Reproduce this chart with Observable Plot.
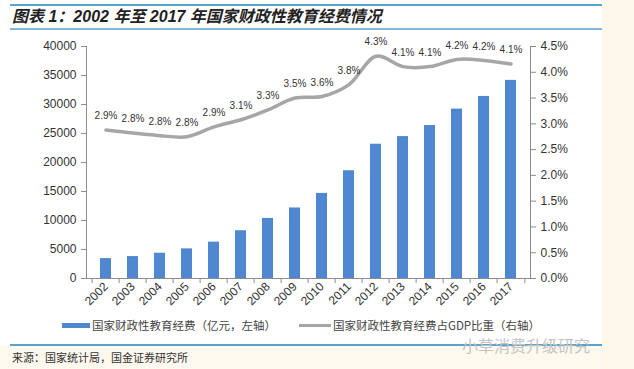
<!DOCTYPE html>
<html>
<head>
<meta charset="utf-8">
<script src="https://cdn.jsdelivr.net/npm/d3@7"></script>
<script src="https://cdn.jsdelivr.net/npm/@observablehq/plot@0.6"></script>
<style>
  html, body { margin: 0; padding: 0; }
  body { width: 634px; height: 369px; position: relative; background: #ffffff; overflow: hidden;
         font-family: "Liberation Sans", "Noto Sans CJK SC", sans-serif; }
  .abs { position: absolute; }
  #title { left: 12px; top: 7px; font-size: 16px; font-weight: bold; font-style: italic; color: #222; line-height: 20px; white-space: nowrap; }
  .hline { height: 2px; background: #5ba3c8; left: 10px; width: 592px; }
  #chart { left: 0; top: 30px; }
  .leg { font-family: "Noto Sans CJK SC", sans-serif; font-size: 11.5px; color: #444; white-space: nowrap; line-height: 14px; }
  #source { left: 12px; top: 350px; font-family: "Noto Sans CJK SC", sans-serif; font-size: 11px; color: #333; white-space: nowrap; line-height: 14px; }
  #wm { left: 462px; top: 335px; font-family: "Noto Sans CJK SC", sans-serif; font-size: 16px; color: #c4c4c4; white-space: nowrap; line-height: 20px; }
</style>
</head>
<body>
<div class="abs" style="left:602px;top:0;width:32px;height:369px;background:#fdf8ea;"></div>
<div class="abs" style="left:0;top:346px;width:602px;height:23px;background:#fdf9ee;"></div>
<div class="abs hline" style="top:4px;"></div>
<div class="abs" id="title">图表 1：2002 年至 2017 年国家财政性教育经费情况</div>
<div class="abs hline" style="top:28px;height:1.5px;background:#7fb8d6;"></div>
<div class="abs" id="chart"></div>
<div class="abs" style="left:62px;top:323px;width:28px;height:5px;background:#4f88d0;"></div>
<div class="abs leg" style="left:92px;top:318px;">国家财政性教育经费（亿元，左轴）</div>
<div class="abs" style="left:299px;top:324px;width:32px;height:3px;background:#a6a6a6;"></div>
<div class="abs leg" style="left:333px;top:318px;">国家财政性教育经费占GDP比重（右轴）</div>
<div class="abs hline" style="top:344px;"></div>
<div class="abs" id="source">来源：国家统计局，国金证券研究所</div>
<div class="abs" id="wm">小草消费升级研究</div>
<script>
const years = ["2002","2003","2004","2005","2006","2007","2008","2009","2010","2011","2012","2013","2014","2015","2016","2017"];
const spending = [3430, 3780, 4360, 5110, 6270, 8230, 10360, 12160, 14670, 18580, 23150, 24470, 26370, 29210, 31390, 34160];
const gdpShare = [2.88, 2.82, 2.77, 2.75, 2.94, 3.08, 3.27, 3.50, 3.53, 3.76, 4.31, 4.11, 4.11, 4.25, 4.23, 4.16];
const shareLabels = ["2.9%","2.8%","2.8%","2.8%","2.9%","3.1%","3.3%","3.5%","3.6%","3.8%","4.3%","4.1%","4.1%","4.2%","4.2%","4.1%"];
const leftTicks = [0,5000,10000,15000,20000,25000,30000,35000,40000];
const rightTicks = [0,0.5,1.0,1.5,2.0,2.5,3.0,3.5,4.0,4.5];

const leftMax = 40000, rightMax = 4.5;
const ratio = leftMax / rightMax;

const data = years.map((y, i) => ({year: y, value: spending[i], share: gdpShare[i], label: shareLabels[i]}));

const W = 634, H = 290, mL = 86, mR = 104, mT = 16, mB = 42;
const step = (W - mL - mR) / years.length;
const pad = 0.59;

const axisColor = "#8c8c8c";
const plot = Plot.plot({
  width: W, height: H,
  marginLeft: mL, marginRight: mR, marginTop: mT, marginBottom: mB,
  style: {fontFamily: "Liberation Sans, Arial, sans-serif", fontSize: "12px", color: "#333", background: "transparent"},
  x: {type: "band", domain: years, paddingInner: pad, paddingOuter: pad / 2, label: null},
  y: {domain: [0, leftMax], label: null},
  marks: [
    Plot.barY(data, {x: "year", y: "value", fill: "#4f88d0"}),
    Plot.frame({anchor: "left", stroke: axisColor}),
    Plot.frame({anchor: "right", stroke: axisColor}),
    Plot.frame({anchor: "bottom", stroke: axisColor}),
    Plot.axisY({anchor: "left", ticks: leftTicks, tickSize: 5, tickPadding: 5, stroke: axisColor, fill: "#333", fontSize: 12, tickFormat: d => String(d), label: null}),
    Plot.axisY({anchor: "right", ticks: rightTicks.map(t => t * ratio), tickSize: 5, tickPadding: 5, stroke: axisColor, fill: "#333", fontSize: 12,
      tickFormat: d => (d / ratio).toFixed(1) + "%", label: null}),
    Plot.axisX({anchor: "bottom", tickSize: 0, tickPadding: 6, tickRotate: -45, fill: "#333", fontSize: 12, label: null}),
    Plot.ruleX(years, {x: d => d, dx: -step / 2, y1: 0, y2: 0, insetBottom: -5, stroke: axisColor}),
    Plot.ruleX(years.slice(-1), {x: d => d, dx: step / 2, y1: 0, y2: 0, insetBottom: -5, stroke: axisColor}),
    Plot.line(data, {x: "year", y: d => d.share * ratio, stroke: "#a6a6a6", strokeWidth: 3.5, curve: "catmull-rom"}),
    Plot.text(data, {x: "year", y: d => d.share * ratio, text: "label", dy: -14, fontSize: 10, fill: "#333"})
  ]
});
document.getElementById("chart").appendChild(plot);
</script>
</body>
</html>
